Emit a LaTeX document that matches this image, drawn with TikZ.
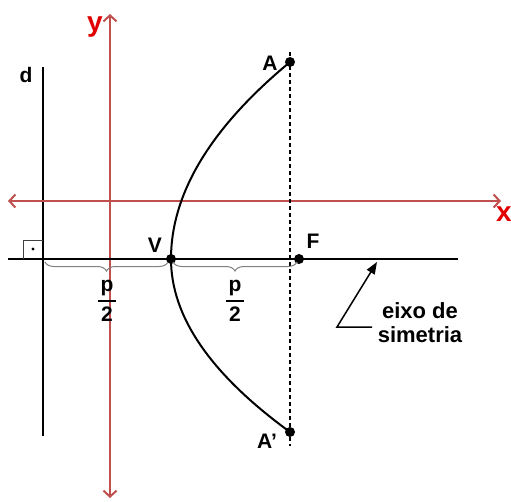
\documentclass[tikz,border=0pt]{standalone}
\usepackage{fontspec}
\setmainfont{Liberation Sans}
\usetikzlibrary{arrows.meta,decorations.pathreplacing}
\definecolor{axisred}{RGB}{192,80,77}
\definecolor{labred}{RGB}{225,0,0}
\begin{document}
\begin{tikzpicture}[x=1pt,y=-1pt,
  lbl/.style={font=\bfseries\fontsize{21}{21}\selectfont, inner sep=0pt},
  axlbl/.style={font=\bfseries\fontsize{28}{28}\selectfont, inner sep=0pt, text=labred},
  txt/.style={font=\bfseries\fontsize{22}{24}\selectfont, inner sep=0pt, align=center},
  frac/.style={font=\bfseries\fontsize{21}{21}\selectfont, inner sep=0pt},
  pt/.style={circle, fill=black, inner sep=0pt, minimum size=10pt},
  axisline/.style={axisred, line width=2pt, {Straight Barb[length=6pt,width=13pt]}-{Straight Barb[length=6pt,width=13pt]}},
  bracestyle/.style={gray, line width=1pt, decorate, decoration={brace, amplitude=9pt, mirror}}
]
\useasboundingbox (0,0) rectangle (511,501);
% coordinates
\coordinate (dtop) at (43,67);
\coordinate (dbot) at (43,436);
\coordinate (ytop) at (110,14);
\coordinate (ybot) at (110,498);
\coordinate (xl) at (8,201);
\coordinate (xr) at (501,201);
\coordinate (el) at (8,259);
\coordinate (er) at (458,259);
\coordinate (dashtop) at (290,52);
\coordinate (dashbot) at (290,446);
% directrix
\draw[line width=2pt] (dtop) -- (dbot);
\node[lbl] (dlab) at (26,75) {d};
% red axes
\draw[axisline] (xl) -- (xr);
\draw[axisline] (ybot) -- (ytop);
\node[axlbl] (ylab) at (95,27) {y};
\node[axlbl] (xlab) at (504,214) {x};
% axis of symmetry
\draw[line width=2.6pt] (el) -- (er);
% right angle mark
\draw[line width=1pt, black!75] (23,259) -- (23,240) -- (43,240);
\fill (33,249) circle (1.6pt);
% points
\node[pt] (V) at (171,259) {};
\node[pt] (F) at (299,259) {};
\node[pt] (A) at (290,62) {};
\node[pt] (A2) at (290,432) {};
% dashed
\draw[line width=1.5pt, dash pattern=on 4pt off 3pt] (dashtop) -- (dashbot);
% parabola
\draw[line width=2pt] (A.center) .. controls (210.7,127.7) and (171,193.3) .. (V.center)
  .. controls (171,316.7) and (210.7,374.3) .. (A2.center);
% labels
\node[lbl] (Alab) at (270,63) {A};
\node[lbl] (A2lab) at (267,441) {A'};
\node[lbl] (Vlab) at (155,245) {V};
\node[lbl] (Flab) at (313,241) {F};
% braces
\draw[bracestyle] (45,262) -- (168,262);
\draw[bracestyle] (173,262) -- (297,262);
% p/2
\node[frac] (p1) at (107,288) {p};
\draw[line width=2pt] (98,301) -- (116,301);
\node[frac] (t1) at (107,314) {2};
\node[frac] (p2) at (235,288) {p};
\draw[line width=2pt] (226,301) -- (244,301);
\node[frac] (t2) at (235,314) {2};
% eixo de simetria
\node[txt] (eixo) at (420,323) {eixo de\\simetria};
\coordinate (ar1) at (372,327);
\coordinate (ar2) at (337,327);
\coordinate (artip) at (377,262);
\draw[line width=1.5pt, -{Triangle[length=12pt,width=9pt]}] (ar1) -- (ar2) -- (artip);
\end{tikzpicture}
\end{document}
